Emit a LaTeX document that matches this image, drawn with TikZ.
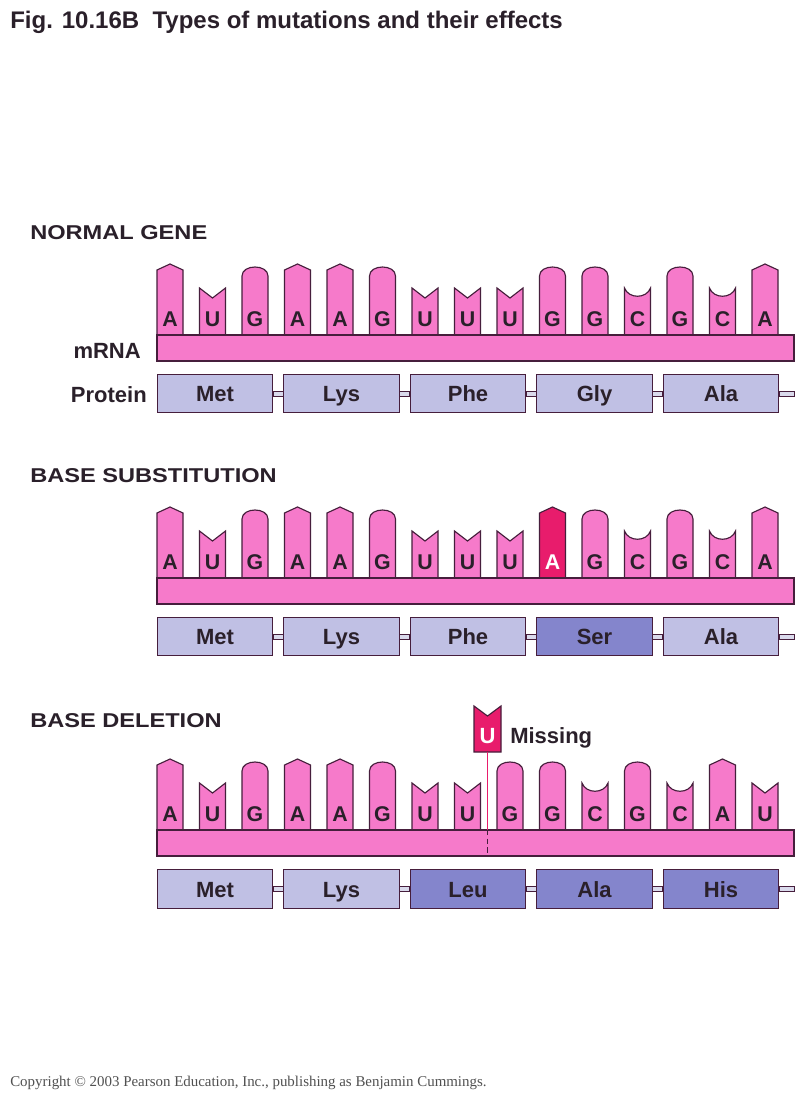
\documentclass[tikz,border=0pt]{standalone}
\usepackage{fontspec}
\setmainfont{Liberation Sans}
\newfontfamily\serifcr{Liberation Serif}
\usetikzlibrary{calc}
\definecolor{basepink}{RGB}{246,122,202}
\definecolor{hotpink}{RGB}{232,28,108}
\definecolor{protL}{RGB}{192,192,228}
\definecolor{protD}{RGB}{132,133,204}
\definecolor{linkfill}{RGB}{218,218,236}
\definecolor{ink}{RGB}{42,32,42}
\definecolor{outl}{RGB}{70,30,60}
\definecolor{crgray}{RGB}{80,80,80}
\tikzset{
  base/.style={draw=outl, line width=0.85pt, line join=miter},
  baselabel/.style={font=\bfseries\fontsize{16}{16}\selectfont, text=ink, inner sep=0pt, text height=11.45pt, text depth=0pt},
  strip/.style={draw=outl, line width=0.85pt, fill=basepink},
  prot/.style={draw=outl, line width=0.85pt, fill=protL, minimum width=86.5pt, minimum height=28.8pt, inner sep=0pt, text height=12pt, text depth=0pt, font=\bfseries\fontsize{16.5}{16.5}\selectfont, text=ink},
  protmut/.style={prot, fill=protD},
  link/.style={draw=outl, line width=0.6pt, fill=linkfill},
  heading/.style={font=\bfseries\fontsize{15}{15}\selectfont\addfontfeature{FakeStretch=1.18}, text=ink, anchor=base west, inner sep=0pt},
  sidelabel/.style={font=\bfseries\fontsize{16.5}{16.5}\selectfont, text=ink, anchor=base east, inner sep=0pt},
}
% tab shapes: #1 centre x, #2 section offset, #3 fill colour
\newcommand\tabA[3]{\path[base,fill=#3] ({#1-13},{335+#2}) -- ({#1-13},{270+#2}) -- ({#1},{264+#2}) -- ({#1+13},{270+#2}) -- ({#1+13},{335+#2});}
\newcommand\tabG[3]{\path[base,fill=#3] ({#1-13},{335+#2}) -- ({#1-13},{276+#2}) .. controls ({#1-13},{264+#2}) and ({#1+13},{264+#2}) .. ({#1+13},{276+#2}) -- ({#1+13},{335+#2});}
\newcommand\tabU[3]{\path[base,fill=#3] ({#1-13},{335+#2}) -- ({#1-13},{288+#2}) -- ({#1},{298+#2}) -- ({#1+13},{288+#2}) -- ({#1+13},{335+#2});}
\newcommand\tabC[3]{\path[base,fill=#3] ({#1-13},{335+#2}) -- ({#1-13},{288+#2}) .. controls ({#1-9},{299+#2}) and ({#1+9},{299+#2}) .. ({#1+13},{288+#2}) -- ({#1+13},{335+#2});}
\begin{document}
\begin{tikzpicture}[x=0.75pt,y=-0.75pt]
\useasboundingbox (0,0) rectangle (800,1099);
\fill[white] (0,0) rectangle (800,1099);

% title
\node[font=\bfseries\fontsize{18}{18}\selectfont, text=ink, anchor=base west, inner sep=0pt] (title) at (10,29) {Fig. 10.16B\ \ Types of mutations and their effects};

% ---------------- NORMAL GENE ----------------
\node[heading] (h1) at (30,239) {NORMAL GENE};
\foreach \b [count=\i from 0] in {A,U,G,A,A,G,U,U,U,G,G,C,G,C,A} {
  \csname tab\b\endcsname{170+42.5*\i}{0}{basepink}
  \node[baselabel] (na\i) at ({170+42.5*\i},319) {\b};
}
\path[strip] (157,335) rectangle (794,361);
\node[sidelabel] (mrna) at (141,358) {mRNA};
\node[sidelabel] (protein) at (147,402) {Protein};
\foreach \p [count=\i from 0] in {Met,Lys,Phe,Gly,Ala}
  \node[prot] (pa\i) at ({215+126.5*\i},393.5) {\p};
\coordinate (ea) at (794,393.5);
\foreach \i/\j in {0/1,1/2,2/3,3/4}
  \path[link] ($(pa\i.east)+(0,-2.5)$) rectangle ($(pa\j.west)+(0,2.5)$);
\path[link] ($(pa4.east)+(0,-2.5)$) rectangle ($(ea)+(0,2.5)$);

% ---------------- BASE SUBSTITUTION ----------------
\node[heading] (h2) at (30,482) {BASE SUBSTITUTION};
\foreach \b/\f/\t [count=\i from 0] in {A/basepink/ink,U/basepink/ink,G/basepink/ink,A/basepink/ink,A/basepink/ink,G/basepink/ink,U/basepink/ink,U/basepink/ink,U/basepink/ink,A/hotpink/white,G/basepink/ink,C/basepink/ink,G/basepink/ink,C/basepink/ink,A/basepink/ink} {
  \csname tab\b\endcsname{170+42.5*\i}{243}{\f}
  \node[baselabel, text=\t] (nb\i) at ({170+42.5*\i},562) {\b};
}
\path[strip] (157,578) rectangle (794,604);
\foreach \p/\s [count=\i from 0] in {Met/prot,Lys/prot,Phe/prot,Ser/protmut,Ala/prot}
  \node[\s] (pb\i) at ({215+126.5*\i},636.5) {\p};
\coordinate (eb) at (794,636.5);
\foreach \i/\j in {0/1,1/2,2/3,3/4}
  \path[link] ($(pb\i.east)+(0,-2.5)$) rectangle ($(pb\j.west)+(0,2.5)$);
\path[link] ($(pb4.east)+(0,-2.5)$) rectangle ($(eb)+(0,2.5)$);

% ---------------- BASE DELETION ----------------
\node[heading] (h3) at (30,727) {BASE DELETION};
\foreach \b [count=\i from 0] in {A,U,G,A,A,G,U,U,G,G,C,G,C,A,U} {
  \csname tab\b\endcsname{170+42.5*\i}{495}{basepink}
  \node[baselabel] (nc\i) at ({170+42.5*\i},814) {\b};
}
\path[strip] (157,830) rectangle (794,856);
% missing U
\path[base, fill=hotpink] (474,752) -- (474,706) -- (487.5,716) -- (501,706) -- (501,752) -- cycle;
\node[font=\bfseries\fontsize{16.5}{16.5}\selectfont, text=white, anchor=base, inner sep=0pt] (mu) at (487.5,743) {U};
\node[font=\bfseries\fontsize{16.5}{16.5}\selectfont, text=ink, anchor=base west, inner sep=0pt] (missing) at (510,743) {Missing};
\coordinate (gapTop) at (487.5,830);
\coordinate (gapBot) at (487.5,856);
\draw[hotpink, line width=1pt] (487.5,752) -- (gapTop);
\draw[outl, line width=0.9pt, dash pattern=on 4pt off 2.5pt] (gapTop) -- (gapBot);
\foreach \p/\s [count=\i from 0] in {Met/prot,Lys/prot,Leu/protmut,Ala/protmut,His/protmut}
  \node[\s] (pc\i) at ({215+126.5*\i},889) {\p};
\coordinate (ec) at (794,889);
\foreach \i/\j in {0/1,1/2,2/3,3/4}
  \path[link] ($(pc\i.east)+(0,-2.5)$) rectangle ($(pc\j.west)+(0,2.5)$);
\path[link] ($(pc4.east)+(0,-2.5)$) rectangle ($(ec)+(0,2.5)$);

% copyright
\node[font=\serifcr\fontsize{11.2}{11.2}\selectfont, text=crgray, anchor=base west, inner sep=0pt] (copy) at (10,1086) {Copyright \textcopyright\ 2003 Pearson Education, Inc., publishing as Benjamin Cummings.};
\end{tikzpicture}
\end{document}
